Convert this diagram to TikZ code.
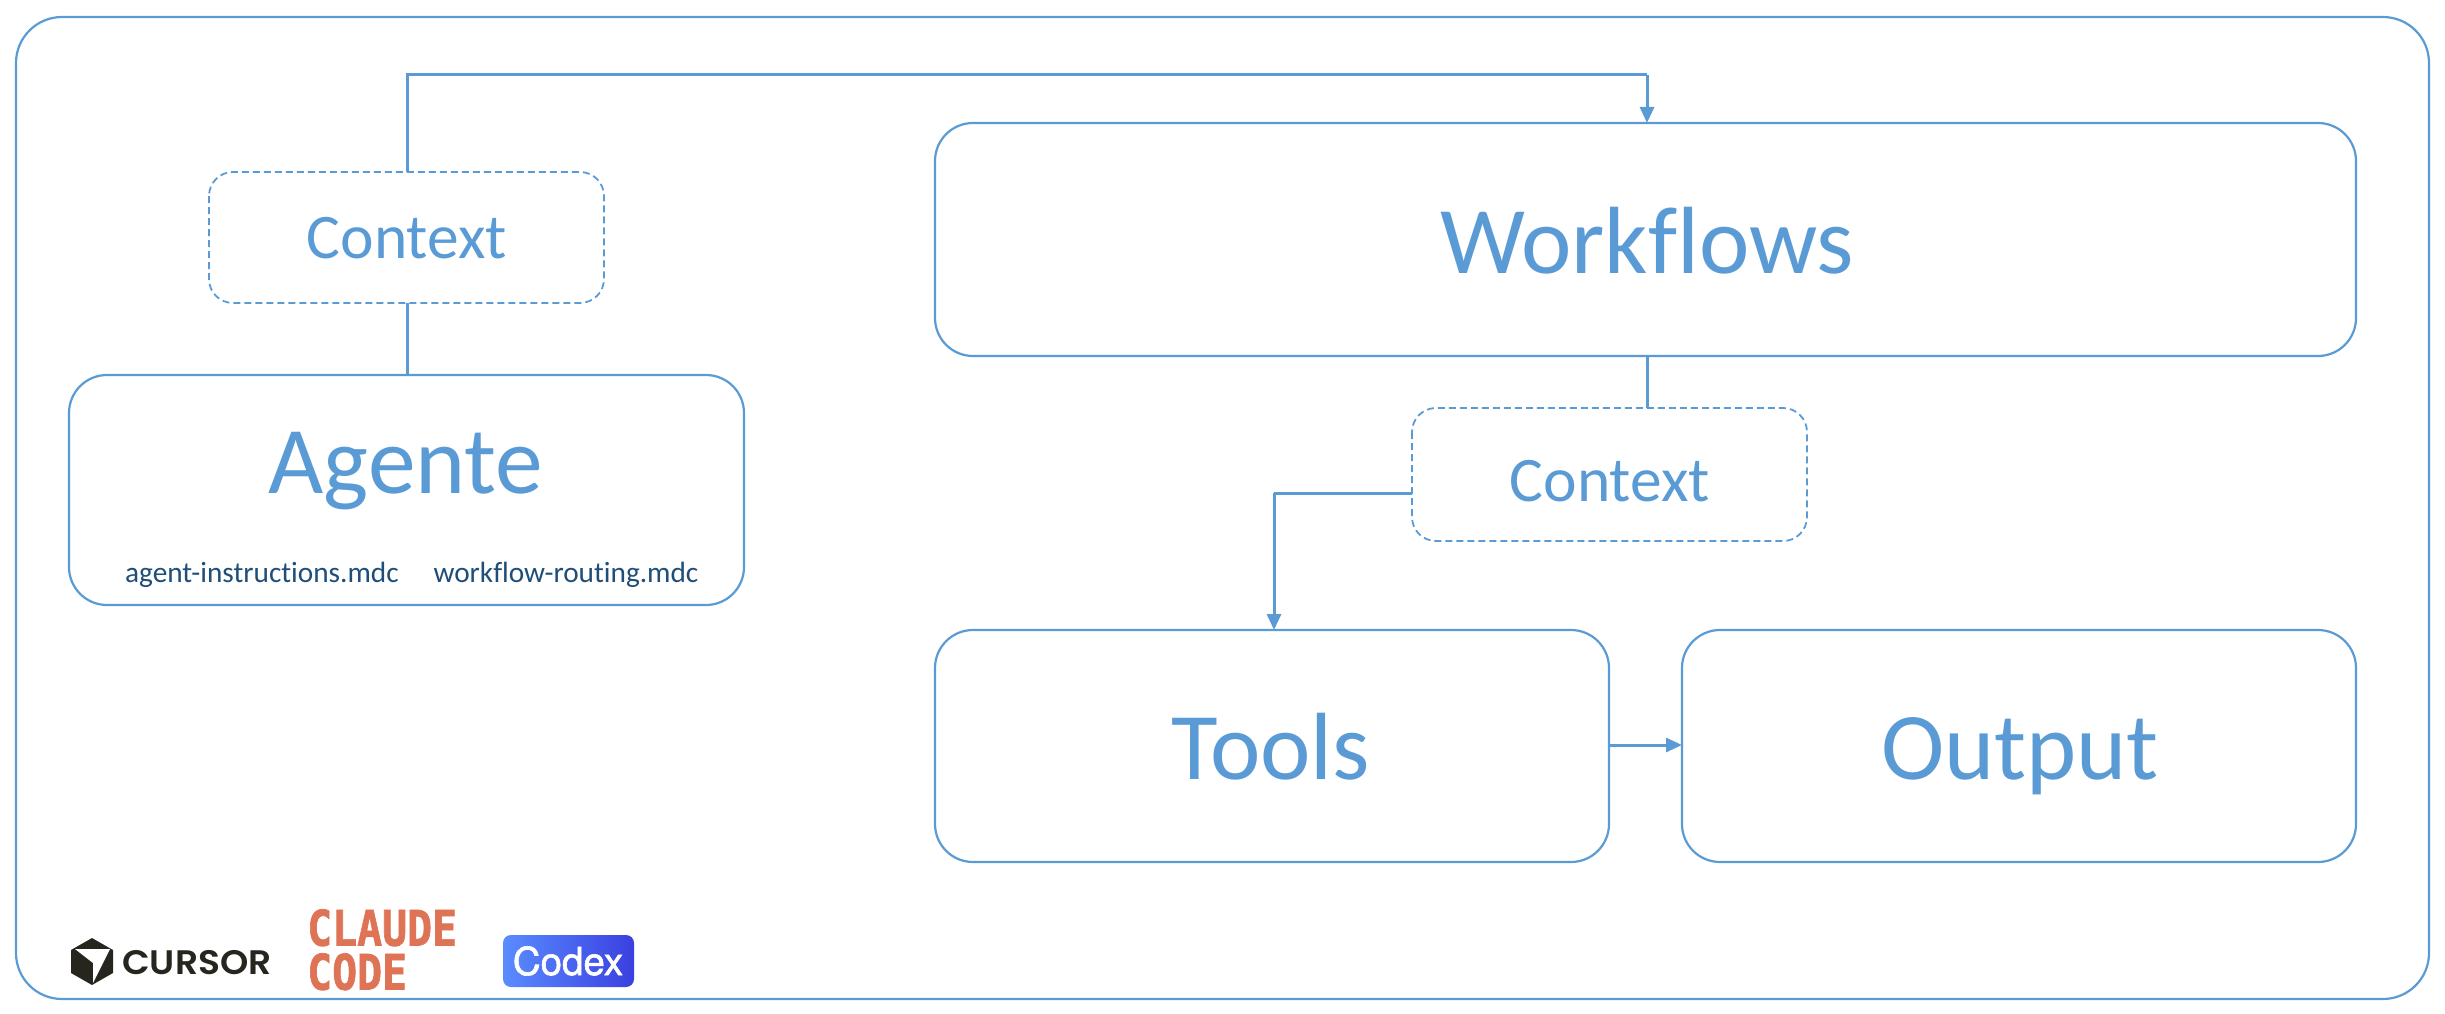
\documentclass[tikz,border=0pt]{standalone}
\usepackage{fontspec}
\setmainfont{Carlito}[Ligatures=CommonOff]
\newfontfamily\cursorfont{Poppins SemiBold}
\newfontfamily\codexfont{TeX Gyre Heros}[FakeBold=1.6]
\newfontfamily\claudefont{DejaVu Sans Mono Bold}[FakeBold=1.5]
\usetikzlibrary{arrows.meta}
\definecolor{mainblue}{HTML}{5B9BD5}
\definecolor{darkblue}{HTML}{1F4E79}
\definecolor{claudeorange}{HTML}{DE7356}
\definecolor{cursorblack}{HTML}{26251E}
\definecolor{codexleft}{HTML}{5A8CFF}
\definecolor{codexright}{HTML}{3A40E0}
\tikzset{
  x=1pt,y=-1pt,
  box/.style={draw=mainblue,line width=2.2pt,rounded corners=38pt,fill=white},
  ctxbox/.style={draw=mainblue,line width=1.8pt,dash pattern=on 7pt off 4pt,rounded corners=24pt},
  bigtext/.style={text=mainblue,font=\fontsize{95.5}{95.5}\selectfont,anchor=base},
  ctxtext/.style={text=mainblue,font=\fontsize{63.5}{63.5}\selectfont,anchor=base},
  filetext/.style={text=darkblue,font=\fontsize{29.3}{29.3}\selectfont,anchor=base},
  link/.style={draw=mainblue,line width=3pt},
  arrowlink/.style={link,-{Triangle[length=16pt,width=14pt]}},
  claudetext/.style={anchor=north west,inner sep=0pt,align=left,text=claudeorange,font=\claudefont\fontsize{41.5}{37.3}\selectfont,yscale=1.18}
}
\begin{document}
\begin{tikzpicture}
\useasboundingbox (0,0) rectangle (2445,1014);
\draw[mainblue,line width=2.2pt,rounded corners=46pt] (16,17) rectangle (2429,999);
\draw[box] (69,375) rectangle (744,605);
\draw[box] (935,123) rectangle (2356,356);
\draw[box] (935,630) rectangle (1609,862);
\draw[box] (1682,630) rectangle (2356,862);
\draw[ctxbox] (209,172) rectangle (604,303);
\draw[ctxbox] (1412,408) rectangle (1807,541);
\coordinate (agT) at (407,375);
\coordinate (c1B) at (407,303);
\coordinate (c1T) at (407,172);
\coordinate (wfT) at (1647,123);
\coordinate (wfB) at (1647,356);
\coordinate (c2T) at (1647,408);
\coordinate (c2L) at (1412,493);
\coordinate (toT) at (1274,630);
\coordinate (toR) at (1609,745);
\coordinate (ouL) at (1682,745);
\coordinate (topL) at (407,75);
\coordinate (topR) at (1647,75);
\coordinate (midL) at (1274,493);
\draw[link] (c1T) -- (topL) -- (topR);
\draw[arrowlink] (topR) -- (wfT);
\draw[link] (agT) -- (c1B);
\draw[link] (wfB) -- (c2T);
\draw[link] (c2L) -- (midL);
\draw[arrowlink] (midL) -- (toT);
\draw[arrowlink] (toR) -- (ouL);
\node[bigtext] (wf) at (1647,273) {Workflows};
\node[bigtext] (ag) at (406,493) {Agente};
\node[bigtext] (to) at (1271,779) {Tools};
\node[bigtext] (ou) at (2020,779) {Output};
\node[ctxtext] (c1) at (407,258) {Context};
\node[ctxtext] (c2) at (1610,501) {Context};
\node[filetext] (f1) at (262,582) {agent-instructions.mdc};
\node[filetext] (f2) at (566,582) {workflow-routing.mdc};
% cursor logo
\fill[cursorblack] (92,938) -- (113,950) -- (113,973) -- (92,985) -- (71,973) -- (71,950) -- cycle;
\fill[white] (75,949) -- (110,949) -- (93,983) -- (93,963) -- cycle;
\node[anchor=base west,inner sep=0pt,text=cursorblack,font=\cursorfont\fontsize{34}{34}\selectfont,xscale=1.06] (cur) at (122,974) {CURSOR};
% claude code
\node[claudetext] (cl) at (307,909) {CLAUDE\\CODE};
% codex
\shade[left color=codexleft,right color=codexright,rounded corners=8pt] (503,935) rectangle (634,987);
\node[anchor=base,inner sep=0pt,text=white,font=\codexfont\fontsize{38.5}{38.5}\selectfont] (cx) at (568,975) {Codex};
\end{tikzpicture}
\end{document}
